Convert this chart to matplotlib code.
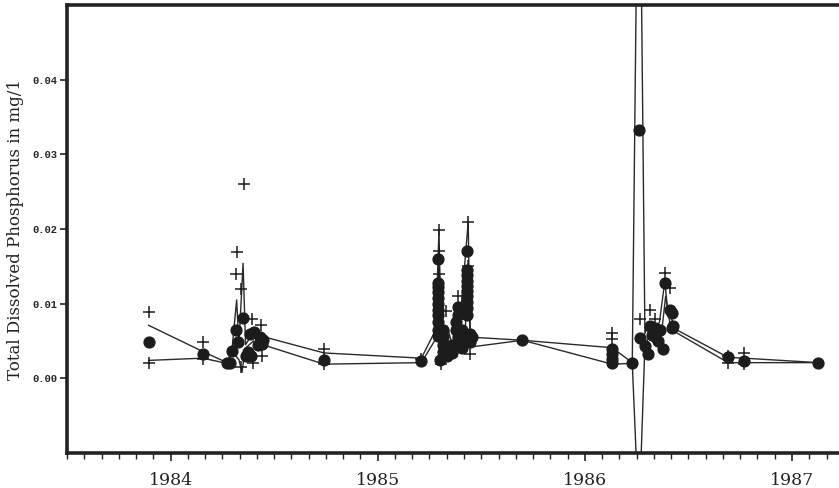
import numpy as np
import matplotlib
matplotlib.use('Agg')
import matplotlib.pyplot as plt
from matplotlib.ticker import FixedLocator, FuncFormatter

# ---------------- data (decimal years, mg/l) ----------------
circle_years = [
    1983.894, 1984.155, 1984.273, 1984.287, 1984.297, 1984.316, 1984.326, 1984.350,
    1984.362, 1984.375, 1984.382, 1984.386, 1984.401, 1984.420, 1984.430, 1984.440, 1984.444,
    1984.741, 1985.211,
    1985.290, 1985.290, 1985.290, 1985.290, 1985.290, 1985.290, 1985.290, 1985.290,
    1985.290, 1985.290, 1985.290,
    1985.300, 1985.314, 1985.314, 1985.314, 1985.314, 1985.333, 1985.333,
    1985.357, 1985.357, 1985.377, 1985.377, 1985.389, 1985.389, 1985.389,
    1985.406, 1985.406, 1985.406,
    1985.433, 1985.433, 1985.433, 1985.433, 1985.433, 1985.433, 1985.433, 1985.433,
    1985.433, 1985.433,
    1985.444, 1985.444, 1985.454, 1985.699,
    1986.132, 1986.132, 1986.132, 1986.132, 1986.229, 1986.261,
    1986.266, 1986.290, 1986.306, 1986.314, 1986.324, 1986.338, 1986.353, 1986.362,
    1986.377, 1986.386, 1986.411, 1986.419, 1986.419, 1986.428,
    1986.692, 1986.770, 1987.127,
]
circle_values = [
    0.0048, 0.0033, 0.0020, 0.0020, 0.0037, 0.0065, 0.0048, 0.0081,
    0.0030, 0.0035, 0.0059, 0.0030, 0.0062, 0.0045, 0.0056, 0.0046, 0.0052,
    0.0025, 0.0023,
    0.0160, 0.0128, 0.0122, 0.0115, 0.0108, 0.0100, 0.0092, 0.0085,
    0.0075, 0.0065, 0.0057,
    0.0025, 0.0065, 0.0055, 0.0045, 0.0035, 0.0040, 0.0030,
    0.0034, 0.0045, 0.0075, 0.0065, 0.0095, 0.0085, 0.0055,
    0.0065, 0.0040, 0.0050,
    0.0171, 0.0145, 0.0138, 0.0131, 0.0124, 0.0117, 0.0110, 0.0102,
    0.0094, 0.0085,
    0.0048, 0.0060, 0.0055, 0.0051,
    0.0039, 0.0032, 0.0026, 0.0021, 0.0021, 0.0333,
    0.0054, 0.0043, 0.0032, 0.0070, 0.0058, 0.0068, 0.0050, 0.0065,
    0.0039, 0.0128, 0.0092, 0.0088, 0.0068, 0.0070,
    0.0028, 0.0023, 0.0021,
]

plus_years = [
    1983.894, 1983.894, 1984.155, 1984.155, 1984.314, 1984.322, 1984.338, 1984.354,
    1984.340, 1984.394, 1984.397, 1984.438, 1984.443, 1984.741, 1984.741, 1985.211,
    1985.296, 1985.296, 1985.296, 1985.304, 1985.330, 1985.388, 1985.437, 1985.437,
    1985.447, 1986.132, 1986.132, 1986.266, 1986.314, 1986.340, 1986.389, 1986.411,
    1986.692, 1986.692, 1986.770, 1986.770,
]
plus_values = [
    0.0089, 0.0020, 0.0049, 0.0026, 0.0140, 0.0169, 0.0119, 0.0260,
    0.0015, 0.0080, 0.0021, 0.0071, 0.0030, 0.0039, 0.0019, 0.0026,
    0.0199, 0.0170, 0.0140, 0.0019, 0.0090, 0.0110, 0.0210, 0.0150,
    0.0032, 0.0061, 0.0053, 0.0079, 0.0092, 0.0080, 0.0141, 0.0121,
    0.0030, 0.0020, 0.0034, 0.0019,
]

upper_years = [
    1983.894, 1984.155, 1984.273, 1984.297, 1984.319, 1984.330, 1984.350, 1984.362,
    1984.400, 1984.445, 1984.741, 1985.211, 1985.280, 1985.296, 1985.305, 1985.335,
    1985.370, 1985.400, 1985.437, 1985.445, 1985.460, 1985.699, 1986.132, 1986.229,
    1986.261, 1986.290, 1986.310, 1986.335, 1986.360, 1986.386, 1986.400, 1986.443,
    1986.692, 1986.770, 1987.127,
]
upper_values = [
    0.0071, 0.0036, 0.0021, 0.0040, 0.0105, 0.0045, 0.0154, 0.0045,
    0.0062, 0.0056, 0.0034, 0.0027, 0.0065, 0.0200, 0.0045, 0.0070,
    0.0035, 0.0085, 0.0210, 0.0055, 0.0055, 0.0051, 0.0041, 0.0021,
    0.0860, 0.0060, 0.0075, 0.0065, 0.0075, 0.0130, 0.0090, 0.0065,
    0.0028, 0.0027, 0.0021,
]

lower_years = [
    1983.894, 1984.155, 1984.273, 1984.300, 1984.330, 1984.345, 1984.360, 1984.400,
    1984.445, 1984.741, 1985.211, 1985.285, 1985.296, 1985.310, 1985.350, 1985.420,
    1985.437, 1985.450, 1985.699, 1986.132, 1986.229, 1986.261, 1986.290, 1986.310,
    1986.340, 1986.370, 1986.390, 1986.410, 1986.443, 1986.692, 1986.770, 1987.127,
]
lower_values = [
    0.0024, 0.0027, 0.0020, 0.0035, 0.0025, 0.0008, 0.0040, 0.0050,
    0.0045, 0.0019, 0.0021, 0.0055, 0.0170, 0.0030, 0.0045, 0.0050,
    0.0150, 0.0042, 0.0051, 0.0019, 0.0020, -0.0190, 0.0045, 0.0055,
    0.0045, 0.0060, 0.0110, 0.0075, 0.0061, 0.0021, 0.0021, 0.0021,
]

year_ticks = [1984, 1985, 1986, 1987]
value_ticks = [0.00, 0.01, 0.02, 0.03, 0.04]
y_label = "Total Dissolved Phosphorus in mg/1"

# ---------------- figure ----------------
W, H = 839, 488
fig = plt.figure(figsize=(W / 100, H / 100), dpi=100)
ax = fig.add_axes([67 / W, 35 / H, 1 - 67 / W, 448 / H])

ink = '#1c1c1c'
ax.plot(upper_years, upper_values, color='#2a2a2a', lw=1.0, zorder=2)
ax.plot(lower_years, lower_values, color='#2a2a2a', lw=1.0, zorder=2)
ax.plot(circle_years, circle_values, 'o', color=ink, ms=7.8, mec=ink, zorder=3)
ax.plot(plus_years, plus_values, '+', color=ink, ms=8.5, mew=1.1, zorder=4)

ax.set_xlim(1983.5, 1987.227)
ax.set_ylim(-0.01, 0.05)

for s in ['left', 'bottom', 'top']:
    ax.spines[s].set_linewidth(2.6)
    ax.spines[s].set_color('#222222')
ax.spines['right'].set_visible(False)

ax.xaxis.set_major_locator(FixedLocator(year_ticks))
ax.xaxis.set_minor_locator(FixedLocator(np.arange(1983.5, 1987.25, 1 / 12)))
ax.yaxis.set_major_locator(FixedLocator(value_ticks))
ax.yaxis.set_major_formatter(FuncFormatter(lambda v, p: f"{v:.2f}"))
ax.xaxis.set_major_formatter(FuncFormatter(lambda v, p: f"{int(round(v))}"))

ax.tick_params(axis='x', which='major', direction='out', length=6, width=1.2,
               pad=8, labelsize=12.5, colors='#222222')
ax.tick_params(axis='x', which='minor', direction='out', length=4, width=1.0,
               colors='#222222')
ax.tick_params(axis='y', which='major', direction='out', length=5, width=1.2,
               pad=2, labelsize=7.5, colors='#222222')
ax.tick_params(top=False, right=False, which='both')

for lab in ax.get_xticklabels():
    lab.set_fontfamily('DejaVu Serif')
for lab in ax.get_yticklabels():
    lab.set_fontfamily('Liberation Mono')
    lab.set_fontweight('bold')

ax.set_ylabel(y_label, fontfamily='DejaVu Serif', fontsize=12, color='#222222')
ax.yaxis.set_label_coords(-43 / (W - 67), 0.5)

fig.savefig('out.png', dpi=100, facecolor='white')
